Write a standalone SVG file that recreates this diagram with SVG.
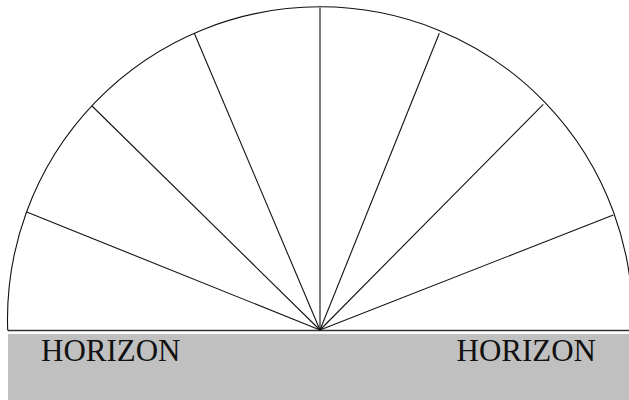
<svg xmlns="http://www.w3.org/2000/svg" width="629" height="400" viewBox="0 0 629 400">
<style>
.ln{stroke:#111;stroke-width:1.1;fill:none}
.lbl{font-family:"Liberation Serif","Times New Roman",serif;font-size:31px;fill:#111}
</style>
<rect width="629" height="400" fill="#fff"/>
<g id="ground">
<rect x="8" y="334" width="621" height="66" fill="#c0c0c0"/>
</g>
<g id="horizon-line">
<line x1="8" y1="330.5" x2="629" y2="330.5" stroke="#333" stroke-width="1.4"/>
</g>
<g id="dome">
<path class="ln" d="M7.7,330.5 A312.5,312.5 0 1 1 632.3,330.5"/>
</g>
<g id="connectors">
<line class="ln" x1="320" y1="330" x2="26.7" y2="212"/>
<line class="ln" x1="320" y1="330" x2="92" y2="106"/>
<line class="ln" x1="320" y1="330" x2="194.3" y2="33.3"/>
<line class="ln" x1="320" y1="330" x2="320" y2="7.5"/>
<line class="ln" x1="320" y1="330" x2="439.3" y2="33.3"/>
<line class="ln" x1="320" y1="330" x2="543.3" y2="104.3"/>
<line class="ln" x1="320" y1="330" x2="613.3" y2="215"/>
</g>
<g id="label-left"><text class="lbl" x="41" y="361">HORIZON</text></g>
<g id="label-right"><text class="lbl" x="456.5" y="361">HORIZON</text></g>
</svg>
